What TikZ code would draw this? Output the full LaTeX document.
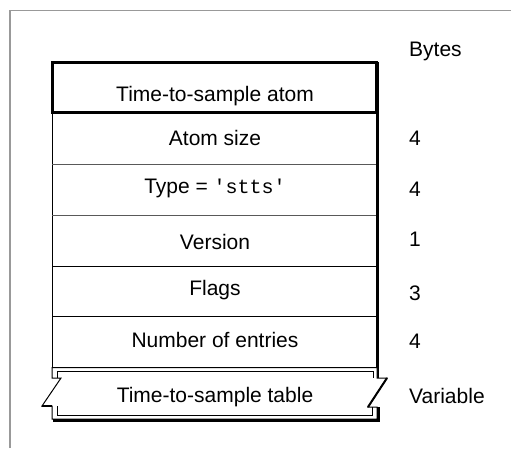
\documentclass[tikz,border=0pt]{standalone}
\usepackage{fontspec}
\setmainfont{Liberation Sans}
\setmonofont{Liberation Mono}
\begin{document}
\begin{tikzpicture}[x=1pt,y=-1pt,
  lbl/.style={font=\fontsize{21}{25}\selectfont, inner sep=0pt, text height=15pt, text depth=0pt},
  bytelbl/.style={lbl, anchor=west},
  thinline/.style={line width=1pt, black},
  sepline/.style={line width=1pt, black!65},
  heavy/.style={line width=3pt, black},
  frameline/.style={line width=1.2pt, black!40}]
\useasboundingbox (0,0) rectangle (511,448);
% outer frame
\draw[frameline] (10,448) -- (10,10.5) -- (511,10.5);
% left edge of rows
\draw[thinline] (52,112) -- (52,368);
% row separators
\draw[sepline] (52,164) -- (377,164);
\draw[sepline] (52,215.5) -- (377,215.5);
\draw[thinline] (52,266.5) -- (377,266.5);
\draw[thinline] (52,316.5) -- (377,316.5);
% top atom box
\draw[heavy] (52.5,62.5) rectangle (376.5,112.5);
% right heavy edge (shadow)
\draw[heavy] (377.5,62) -- (377.5,378);
% table: outer torn shape
\draw[thinline, fill=white] (52,367.5) -- (377,367.5) -- (377,378) -- (387,378) -- (368,407)
  -- (377,407) -- (377,419) -- (52,419) -- (52,406) -- (42,406) -- (61,378) -- (52,378) -- cycle;
% table: inner double line
\draw[thinline] (57,378) -- (57,371.5) -- (373,371.5) -- (373,378);
\draw[thinline] (57,406) -- (57,415) -- (372,415) -- (372,407);
% table: shadow parts
\draw[line width=2pt] (387,378) -- (368,407);
\draw[line width=2pt] (42,406) -- (52,406);
\draw[heavy] (378,407) -- (378,421);
\draw[line width=2.5pt] (53,420.5) -- (379.5,420.5);
% texts
\node[lbl] (title) at (215,93.5) {Time-to-sample atom};
\node[lbl] (size) at (215,137.5) {Atom size};
\node[lbl] (type) at (215,186) {Type = {\fontsize{20}{24}\selectfont\ttfamily\textquotesingle stts\textquotesingle}};
\node[lbl] (version) at (215,242) {Version};
\node[lbl] (flags) at (215,287.5) {Flags};
\node[lbl] (entries) at (215,340) {Number of entries};
\node[lbl] (table) at (215,394.5) {Time-to-sample table};
% byte counts
\node[bytelbl] (bytes) at (409,49) {Bytes};
\node[bytelbl] (bsize) at (409,138) {4};
\node[bytelbl] (btype) at (409,189) {4};
\node[bytelbl] (bversion) at (409,238.5) {1};
\node[bytelbl] (bflags) at (409,292.5) {3};
\node[bytelbl] (bentries) at (409,341) {4};
\node[bytelbl] (btable) at (409,395.5) {Variable};
\end{tikzpicture}
\end{document}
